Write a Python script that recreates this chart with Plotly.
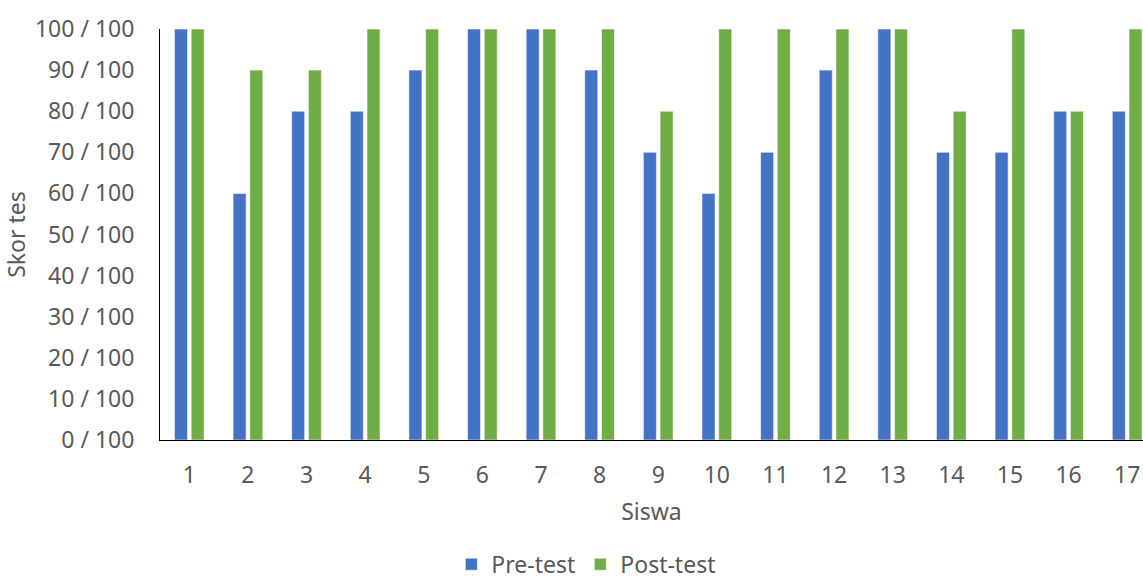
import plotly.graph_objects as go

students = [str(i) for i in range(1, 18)]
pre_test = [100, 60, 80, 80, 90, 100, 100, 90, 70, 60, 70, 90, 100, 70, 70, 80, 80]
post_test = [100, 90, 90, 100, 100, 100, 100, 100, 80, 100, 100, 100, 100, 80, 100, 80, 100]
y_tick_values = [0, 10, 20, 30, 40, 50, 60, 70, 80, 90, 100]
y_tick_labels = [f"{v} / 100" for v in y_tick_values]

x_pos = list(range(1, len(students) + 1))
FONT = "Noto Sans"
GREY = "#595959"

fig = go.Figure()
fig.add_trace(go.Bar(x=x_pos, y=pre_test, name="Pre-test",
                     marker=dict(color="#4472C4", line=dict(color="rgba(255,255,255,0.7)", width=0.8))))
fig.add_trace(go.Bar(x=x_pos, y=post_test, name="Post-test",
                     marker=dict(color="#70AD47", line=dict(color="rgba(255,255,255,0.7)", width=0.8))))

fig.update_layout(
    width=1143, height=581,
    margin=dict(l=160, r=0, t=29, b=141, autoexpand=False),
    plot_bgcolor="white", paper_bgcolor="white",
    barmode="group", bargap=0.43, bargroupgap=0.22,
    font=dict(family=FONT, size=23, color=GREY),
    showlegend=True,
    legend=dict(orientation="h", xref="container", x=0.513, xanchor="center",
                yref="paper", y=-0.25, yanchor="top",
                font=dict(family=FONT, size=23, color=GREY)),
)
fig.update_xaxes(
    range=[0.5, 17.27], tickmode="array", tickvals=x_pos, ticktext=students,
    showline=True, linecolor="black", linewidth=1, showgrid=False, zeroline=False,
    ticks="", ticklabelstandoff=14, automargin=False,
    title=dict(text="Siswa", standoff=15, font=dict(size=23, color=GREY)),
)
fig.update_yaxes(
    range=[0, 100], tickmode="array", tickvals=y_tick_values, ticktext=y_tick_labels,
    showline=True, linecolor="black", linewidth=1, showgrid=False, zeroline=False,
    ticks="", ticklabelstandoff=20, automargin=False,
    title=dict(text="Skor tes", standoff=2, font=dict(size=23, color=GREY)),
)

fig.write_html("out.html", config={"displayModeBar": False},
               post_script="document.body.style.margin='0';document.body.style.overflow='hidden';")
